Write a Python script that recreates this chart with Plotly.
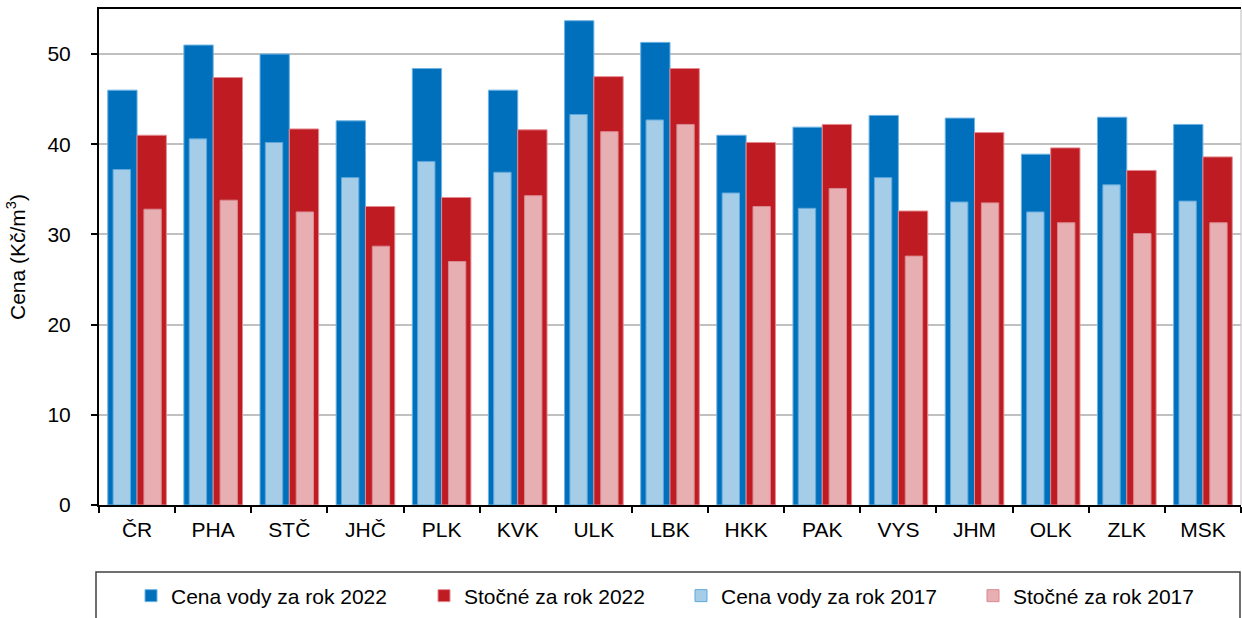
import plotly.graph_objects as go

categories = ["ČR", "PHA", "STČ", "JHČ", "PLK", "KVK", "ULK", "LBK", "HKK", "PAK", "VYS", "JHM", "OLK", "ZLK", "MSK"]
voda_2022 = [46.0, 51.0, 50.0, 42.6, 48.4, 46.0, 53.7, 51.3, 41.0, 41.9, 43.2, 42.9, 38.9, 43.0, 42.2]
stocne_2022 = [41.0, 47.4, 41.7, 33.1, 34.1, 41.6, 47.5, 48.4, 40.2, 42.2, 32.6, 41.3, 39.6, 37.1, 38.6]
voda_2017 = [37.2, 40.6, 40.2, 36.3, 38.1, 36.9, 43.3, 42.7, 34.6, 32.9, 36.3, 33.6, 32.5, 35.5, 33.7]
stocne_2017 = [32.8, 33.8, 32.5, 28.7, 27.0, 34.3, 41.4, 42.2, 33.1, 35.1, 27.6, 33.5, 31.3, 30.1, 31.3]
y_ticks = [0, 10, 20, 30, 40, 50]

W, H = 1242, 618
L, R, T, B = 99, 1, 9, 113
pw, ph = W - L - R, H - T - B

def px_x(p):
    return (p - L) / pw

def px_y(p):
    return (H - B - p) / ph

FONT = "Liberation Sans, Arial, sans-serif"
FS = 21

fig = go.Figure()
wide = 0.385
narrow = 0.228
fig.add_trace(go.Bar(x=categories, y=voda_2022, name="Cena vody za rok 2022", legend="legend",
                     marker=dict(color="#0070BC", line=dict(color="#6FB3E3", width=1)),
                     width=wide, offset=-wide))
fig.add_trace(go.Bar(x=categories, y=stocne_2022, name="Stočné za rok 2022", legend="legend2",
                     marker=dict(color="#BE1B22", line=dict(color="#E58A8F", width=1)),
                     width=wide, offset=0))
fig.add_trace(go.Bar(x=categories, y=voda_2017, name="Cena vody za rok 2017", legend="legend3",
                     marker=dict(color="#A6CDE7", line=dict(color="#5FA8DD", width=1)),
                     width=narrow, offset=-0.315))
fig.add_trace(go.Bar(x=categories, y=stocne_2017, name="Stočné za rok 2017", legend="legend4",
                     marker=dict(color="#E8AFB3", line=dict(color="#D98A90", width=1)),
                     width=narrow, offset=0.09))

def leg(text_px):
    return dict(orientation="h", xref="container", yref="container",
                x=(text_px - 39) / W, y=1 - 596 / H, xanchor="left", yanchor="middle",
                font=dict(size=FS), bgcolor="rgba(0,0,0,0)", itemclick=False,
                itemdoubleclick=False)

fig.update_layout(
    width=W, height=H,
    margin=dict(l=L, r=R, t=T, b=B, pad=0, autoexpand=False),
    barmode="overlay",
    plot_bgcolor="white", paper_bgcolor="white",
    font=dict(family=FONT, size=FS, color="black"),
    showlegend=True,
    legend=leg(170),
    legend2=leg(463),
    legend3=leg(720),
    legend4=leg(1012),
    xaxis=dict(type="category", showline=True, linecolor="black", linewidth=2, mirror=True,
               ticks="outside", tickson="boundaries", ticklen=6, tickwidth=2, tickcolor="black",
               showgrid=False, tickfont=dict(size=FS), ticklabelstandoff=5, automargin=False),
    yaxis=dict(range=[0, 55], tickvals=y_ticks, showline=True, linecolor="black", linewidth=2,
               ticks="outside", ticklen=6, tickwidth=2, tickcolor="black",
               showgrid=True, gridcolor="#C0C0C0", gridwidth=1.5, zeroline=False,
               tickfont=dict(size=FS), ticklabelstandoff=16, automargin=False,
               title=dict(text="Cena (Kč/m<sup>3</sup>)", font=dict(size=FS), standoff=16)),
    shapes=[
        dict(type="line", xref="paper", yref="paper", x0=1, x1=1, y0=0, y1=1,
             line=dict(color="#BBBBBB", width=1)),
        dict(type="rect", xref="paper", yref="paper", x0=px_x(96), x1=px_x(1240),
             y0=px_y(622), y1=px_y(572), line=dict(color="#404040", width=1.5)),
    ],
)

fig.write_html("out.html", config={"displayModeBar": False},
               post_script="document.body.style.margin='0';document.body.style.overflow='hidden';")
